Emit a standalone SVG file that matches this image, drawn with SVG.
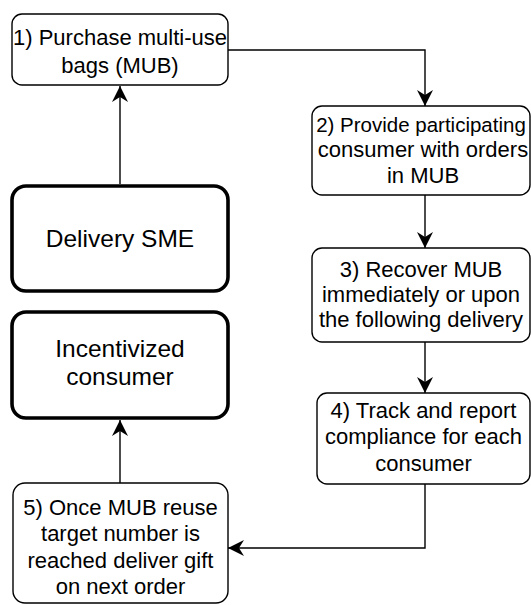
<svg xmlns="http://www.w3.org/2000/svg" width="531" height="605" viewBox="0 0 531 605">
  <style>
    .box { fill: #ffffff; stroke: #000000; stroke-width: 1.4; }
    .major { fill: #ffffff; stroke: #000000; stroke-width: 3.6; }
    .label { font-family: "Liberation Sans", Arial, Helvetica, sans-serif; font-size: 22px; fill: #000000; text-anchor: middle; }
    .big { font-size: 24.5px; }
    .tight { font-size: 20.5px; }
    .edge { fill: none; stroke: #000000; stroke-width: 1.4; }
  </style>
  <defs>
    <marker id="arrow" viewBox="0 0 16 16" refX="16" refY="8" markerWidth="16" markerHeight="16" markerUnits="userSpaceOnUse" orient="auto">
      <path d="M16,8 L0,0 L5,8 L0,16 Z" fill="#000000" stroke="none"/>
    </marker>
  </defs>
  <rect width="531" height="605" fill="#ffffff"/>

  <!-- connectors -->
  <g id="connectors">
    <path class="edge" d="M228,50 H425 V106" marker-end="url(#arrow)"/>
    <path class="edge" d="M425,195 V248" marker-end="url(#arrow)"/>
    <path class="edge" d="M425,342 V393" marker-end="url(#arrow)"/>
    <path class="edge" d="M425,484 V548 H228" marker-end="url(#arrow)"/>
    <path class="edge" d="M120,483 V420" marker-end="url(#arrow)"/>
    <path class="edge" d="M120,184 V86" marker-end="url(#arrow)"/>
  </g>

  <!-- step 1 -->
  <g id="step1">
    <rect class="box" x="12" y="14" width="216" height="71" rx="10"/>
    <text class="label" x="120" y="45">1) Purchase multi-use</text>
    <text class="label" x="120" y="73">bags (MUB)</text>
  </g>

  <!-- step 2 -->
  <g id="step2">
    <rect class="box" x="312" y="106" width="218" height="89" rx="10"/>
    <text class="label tight" x="421" y="131.5">2) Provide participating</text>
    <text class="label" x="423" y="157">consumer with orders</text>
    <text class="label" x="423" y="182.5">in MUB</text>
  </g>

  <!-- step 3 -->
  <g id="step3">
    <rect class="box" x="312" y="248" width="218" height="94" rx="10"/>
    <text class="label" x="421" y="276.5">3) Recover MUB</text>
    <text class="label" x="421" y="301.5">immediately or upon</text>
    <text class="label" x="421" y="326.5">the following delivery</text>
  </g>

  <!-- step 4 -->
  <g id="step4">
    <rect class="box" x="317" y="393" width="213" height="91" rx="10"/>
    <text class="label" x="423.5" y="418">4) Track and report</text>
    <text class="label" x="423.5" y="444">compliance for each</text>
    <text class="label" x="423.5" y="470.5">consumer</text>
  </g>

  <!-- step 5 -->
  <g id="step5">
    <rect class="box" x="13" y="483" width="215" height="120" rx="12"/>
    <text class="label" x="120.5" y="515">5) Once MUB reuse</text>
    <text class="label" x="120.5" y="541">target number is</text>
    <text class="label" x="120.5" y="568">reached deliver gift</text>
    <text class="label" x="120.5" y="594">on next order</text>
  </g>

  <!-- delivery SME -->
  <g id="delivery-sme">
    <rect class="major" x="12" y="186" width="216" height="105" rx="14"/>
    <text class="label big" x="120" y="247">Delivery SME</text>
  </g>

  <!-- incentivized consumer -->
  <g id="incentivized-consumer">
    <rect class="major" x="12" y="312" width="216" height="106" rx="14"/>
    <text class="label big" x="120" y="357">Incentivized</text>
    <text class="label big" x="120" y="385">consumer</text>
  </g>
</svg>
